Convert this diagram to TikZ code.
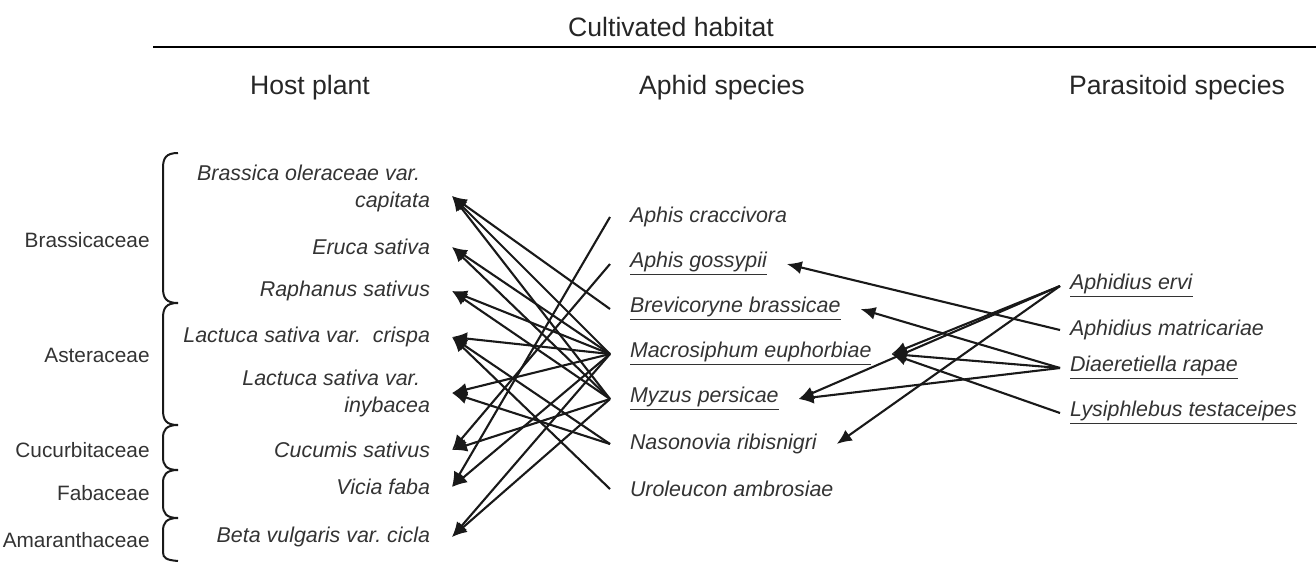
\documentclass[tikz,border=0pt]{standalone}
\usepackage{fontspec}
\setmainfont{Liberation Sans}
\usetikzlibrary{positioning,arrows.meta,calc}

\begin{document}
\begin{tikzpicture}[
  x=0.5pt, y=-0.5pt,
  >={Latex[length=7.5pt,width=6.5pt]},
  %% Text styles
  head/.style={inner sep=0pt, text=black!85,
               font=\fontsize{13.3}{16}\selectfont},
  family/.style={anchor=east, inner sep=0pt, text=black!80,
                 font=\fontsize{10.4}{13}\selectfont},
  host/.style={anchor=east, align=right, inner sep=0pt, outer xsep=11pt,
               text=black!80, font=\fontsize{10.7}{13.5}\selectfont\itshape},
  aphid/.style={anchor=west, inner sep=0pt, outer xsep=10pt,
                text=black!80, font=\fontsize{10.7}{13.5}\selectfont\itshape},
  para/.style={anchor=west, inner sep=0pt, outer xsep=5pt,
               text=black!80, font=\fontsize{10.7}{13.5}\selectfont\itshape},
  %% Line styles
  feeds/.style={->, line width=1.05pt, draw=black!90},
  attacks/.style={->, line width=1.05pt, draw=black!90},
  brace/.style={line width=1pt, draw=black!90},
]
\useasboundingbox (0,0) rectangle (1316,563);

%% ── Headings ───────────────────────────────────────────────────────────────
\node[head] (habitat) at (671,27) {Cultivated habitat};
\draw[line width=1.1pt] (153,47) -- (1316,47);
\node[head] (hostHead)  at (310,88)  {Host plant};
\node[head] (aphidHead) at (722,88)  {Aphid species};
\node[head] (paraHead)  at (1177,88) {Parasitoid species};

%% ── Host plants ────────────────────────────────────────────────────────────
\node[host] (bra) at (452,188) {Brassica oleraceae var.\hspace*{5pt}\\capitata};
\node[host] (eru) at (452,247) {Eruca sativa};
\node[host] (rap) at (452,291) {Raphanus sativus};
\node[host] (lcr) at (452,337) {Lactuca sativa var.\ \ crispa};
\node[host] (lin) at (452,393) {Lactuca sativa var.\hspace*{5pt}\\inybacea};
\node[host] (cuc) at (452,450) {Cucumis sativus};
\node[host] (vic) at (452,487) {Vicia faba};
\node[host] (bet) at (452,537) {Beta vulgaris var.\ cicla};
\coordinate (braTip) at ([yshift=-4pt]bra.east);

%% families
\node[family] (fBra) at (150,240) {Brassicaceae};
\node[family] (fAst) at (150,355) {Asteraceae};
\node[family] (fCuc) at (150,450) {Cucurbitaceae};
\node[family] (fFab) at (150,493) {Fabaceae};
\node[family] (fAma) at (150,540) {Amaranthaceae};

\draw[brace] (178,153) .. controls (166,153) and (163,158) .. (163,168) -- (163,288)
             .. controls (163,298) and (166,303) .. (178,303);
\draw[brace] (178,303) .. controls (166,303) and (163,308) .. (163,318) -- (163,410)
             .. controls (163,420) and (166,425) .. (178,425);
\draw[brace] (178,425) .. controls (166,425) and (163,430) .. (163,438) -- (163,457)
             .. controls (163,465) and (166,470) .. (178,470);
\draw[brace] (178,470) .. controls (166,470) and (163,475) .. (163,483) -- (163,505)
             .. controls (163,513) and (166,518) .. (178,518);
\draw[brace] (178,518) .. controls (166,518) and (163,523) .. (163,531) -- (163,552)
             .. controls (163,558) and (166,560) .. (178,561);

%% ── Aphid species ──────────────────────────────────────────────────────────
\node[aphid] (acr) at (610,217) {Aphis craccivora};
\node[aphid] (ago) at (610,264) {\underline{Aphis gossypii}};
\node[aphid] (bbr) at (610,309) {\underline{Brevicoryne brassicae}};
\node[aphid] (meu) at (610,354) {\underline{Macrosiphum euphorbiae}};
\node[aphid] (mpe) at (610,399) {\underline{Myzus persicae}};
\node[aphid] (nri) at (610,444) {Nasonovia ribisnigri};
\node[aphid] (uam) at (610,489) {Uroleucon ambrosiae};

%% ── Parasitoid species ─────────────────────────────────────────────────────
\node[para] (aer) at (1060,286) {\underline{Aphidius ervi}};
\node[para] (ama) at (1060,330) {Aphidius matricariae};
\node[para] (dra) at (1060,368) {\underline{Diaeretiella rapae}};
\node[para] (lte) at (1060,413) {\underline{Lysiphlebus testaceipes}};

%% ── Aphid -> host plant ────────────────────────────────────────────────────
\draw[feeds] (acr.west) -- (vic.east);
\draw[feeds] (ago.west) -- (cuc.east);
\draw[feeds] (bbr.west) -- (braTip);
\draw[feeds] (meu.west) -- (braTip);
\draw[feeds] (meu.west) -- (eru.east);
\draw[feeds] (meu.west) -- (rap.east);
\draw[feeds] (meu.west) -- (lcr.east);
\draw[feeds] (meu.west) -- (lin.east);
\draw[feeds] (meu.west) -- (vic.east);
\draw[feeds] (meu.west) -- (bet.east);
\draw[feeds] (mpe.west) -- (braTip);
\draw[feeds] (mpe.west) -- (eru.east);
\draw[feeds] (mpe.west) -- (rap.east);
\draw[feeds] (mpe.west) -- (cuc.east);
\draw[feeds] (mpe.west) -- (bet.east);
\draw[feeds] (nri.west) -- (lcr.east);
\draw[feeds] (nri.west) -- (lin.east);
\draw[feeds] (uam.west) -- (lcr.east);

%% ── Parasitoid -> aphid ────────────────────────────────────────────────────
\draw[attacks] (aer.west) -- (meu.east);
\draw[attacks] (aer.west) -- (mpe.east);
\draw[attacks] (aer.west) -- (nri.east);
\draw[attacks] (ama.west) -- (ago.east);
\draw[attacks] (dra.west) -- (bbr.east);
\draw[attacks] (dra.west) -- (meu.east);
\draw[attacks] (dra.west) -- (mpe.east);
\draw[attacks] (lte.west) -- (meu.east);

\end{tikzpicture}
\end{document}
